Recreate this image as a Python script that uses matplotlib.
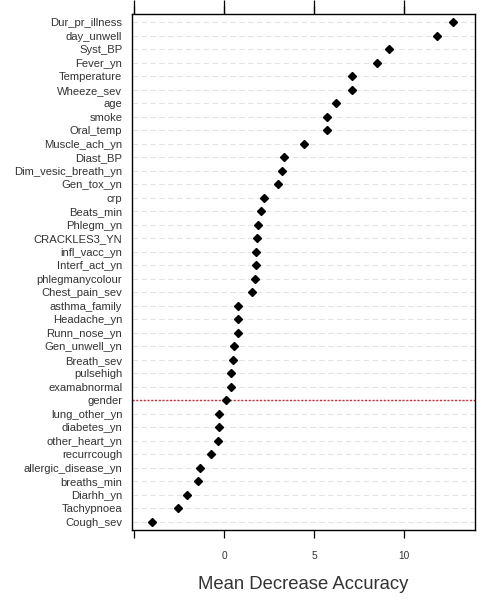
import matplotlib
matplotlib.use("Agg")
import matplotlib.pyplot as plt

plt.rcParams['font.family'] = ['Liberation Sans', 'DejaVu Sans']

# variable importance, top of the list first
variables = [
    "Dur_pr_illness", "day_unwell", "Syst_BP", "Fever_yn", "Temperature",
    "Wheeze_sev", "age", "smoke", "Oral_temp", "Muscle_ach_yn", "Diast_BP",
    "Dim_vesic_breath_yn", "Gen_tox_yn", "crp", "Beats_min", "Phlegm_yn",
    "CRACKLES3_YN", "infl_vacc_yn", "Interf_act_yn", "phlegmanycolour",
    "Chest_pain_sev", "asthma_family", "Headache_yn", "Runn_nose_yn",
    "Gen_unwell_yn", "Breath_sev", "pulsehigh", "examabnormal", "gender",
    "lung_other_yn", "diabetes_yn", "other_heart_yn", "recurrcough",
    "allergic_disease_yn", "breaths_min", "Diarhh_yn", "Tachypnoea", "Cough_sev",
]
mda = [
    12.74, 11.85, 9.15, 8.50, 7.13,
    7.13, 6.22, 5.70, 5.70, 4.43, 3.33,
    3.20, 3.02, 2.22, 2.06, 1.91,
    1.83, 1.78, 1.78, 1.70,
    1.57, 0.78, 0.80, 0.80,
    0.54, 0.48, 0.41, 0.41, 0.09,
    -0.26, -0.26, -0.33, -0.70,
    -1.31, -1.44, -2.07, -2.54, -3.98,
]
xticks = [-5, 0, 5, 10]
xtick_labels = ["", "0", "5", "10"]
cutoff_var = "gender"

fig = plt.figure(figsize=(4.86, 6.01), dpi=100)
ax = fig.add_axes([0.2716, 0.1181, 0.7058, 0.8586])

n = len(variables)
ypos = list(range(n - 1, -1, -1))

for y in ypos:
    ax.axhline(y, color='#e3e3e3', lw=0.8, ls=(0, (5, 3)), zorder=1)

cut_y = ypos[variables.index(cutoff_var)]
ax.axhline(cut_y, color='#c8303f', lw=1.0, ls=(0, (1.5, 1.2)), zorder=2)

ax.plot(mda, ypos, ls='none', marker='D', ms=4.5, color='black', zorder=3)

ax.set_ylim(-0.6, n - 1 + 0.6)
ax.set_xlim(-5.11, 13.94)
ax.set_yticks(ypos)
ax.set_yticklabels(variables, fontsize=8.1, color='#333333')
ax.tick_params(axis='y', length=0, pad=7)

ax.set_xticks(xticks)
ax.set_xticklabels(xtick_labels, fontsize=7.3, color='#333333')
ax.tick_params(axis='x', direction='out', length=6, width=0.9, pad=9,
               top=True, color='black')

sec = ax.secondary_xaxis('top')
sec.set_xticks(xticks)
sec.set_xticklabels([])
sec.tick_params(direction='out', length=10, width=0.9)
sec.spines['top'].set_visible(False)

for s in ax.spines.values():
    s.set_linewidth(1.0)
    s.set_color('black')

ax.set_xlabel("Mean Decrease Accuracy", fontsize=13.3, color='#333333', labelpad=11)

fig.savefig("out.png", dpi=100)
